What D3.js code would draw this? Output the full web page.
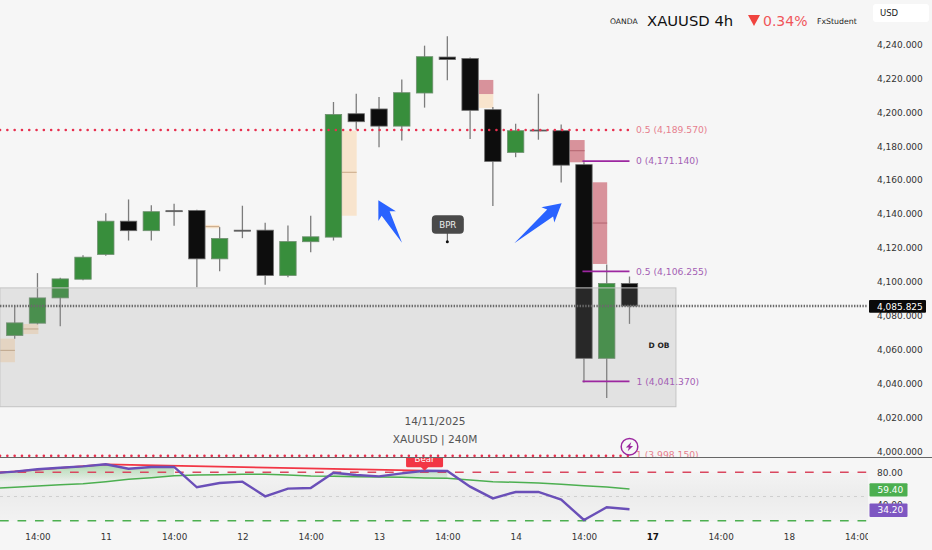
<!DOCTYPE html>
<html>
<head>
<meta charset="utf-8">
<script src="https://cdn.jsdelivr.net/npm/d3@7"></script>
<style>
  html, body { margin: 0; padding: 0; background: #f6f6f6; overflow: hidden; }
  svg { display: block; font-family: "DejaVu Sans", sans-serif; }
  .axis .domain { display: none; }
  .axis text { fill: #333; }
</style>
</head>
<body>
<svg id="chart" width="932" height="550"></svg>
<script>
// candles
const opens  = [4068.4, 4075.7, 4090.6, 4101.6, 4116.2, 4135.8, 4130.2, 4142.0, 4142.1, 4113.6, 4130.5, 4130.5, 4103.8, 4123.7, 4126.4, 4199.1, 4201.9, 4191.8, 4211.3, 4232.5, 4231.6, 4201.5, 4176.3, 4189.5, 4189.1, 4169.1, 4055.0, 4099.1]
const highs  = [4086.1, 4105.2, 4102.5, 4115.8, 4140.5, 4148.6, 4145.2, 4146.1, 4142.5, 4132.3, 4144.9, 4134.9, 4133.3, 4139.0, 4206.0, 4210.9, 4208.9, 4219.2, 4239.2, 4244.7, 4232.2, 4203.0, 4193.2, 4210.9, 4192.7, 4170.5, 4110.3, 4103.2]
const lows   = [4066.5, 4075.0, 4073.9, 4101.0, 4115.5, 4124.4, 4124.4, 4133.1, 4096.9, 4106.3, 4125.8, 4098.3, 4102.8, 4117.5, 4124.4, 4189.7, 4179.4, 4183.4, 4202.7, 4218.8, 4184.2, 4144.7, 4173.5, 4183.8, 4158.6, 4040.7, 4031.7, 4075.3]
const closes = [4075.9, 4090.6, 4101.8, 4114.6, 4135.8, 4130.2, 4141.4, 4141.4, 4113.6, 4125.6, 4130.1, 4103.8, 4123.8, 4126.6, 4198.7, 4194.4, 4191.8, 4211.5, 4232.7, 4231.0, 4201.1, 4171.0, 4189.1, 4189.1, 4168.8, 4055.0, 4099.1, 4085.825]

// rsi pane, first value sits one bar left of the first candle
const rsiBars = d3.range(-1, 28)
const rsiValues = [79, 80.8, 83.7, 85.7, 87.4, 89.9, 84.5, 86.6, 86.6, 61.4, 66.7, 68.4, 50.2, 59.7, 60.5, 79.5, 76.7, 75, 78.7, 82, 81.6, 62.2, 47.7, 55.6, 55.6, 46.1, 20.9, 36.6, 34.2]
const maValues = [60, 61.4, 63, 64.7, 65.9, 68.4, 71.3, 73.3, 75.8, 76.7, 77.1, 77.5, 77.5, 76.7, 75.4, 75, 74.6, 74.2, 73.8, 72.9, 72.5, 70.5, 68.4, 67.6, 66.7, 65.1, 63.4, 61.8, 59.4]
const divergenceBars = [-0.65, 4, 18]
const divergenceValues = [79.5, 89.9, 82]

const priceTicks = [4240, 4220, 4200, 4180, 4160, 4140, 4120, 4100, 4080, 4060, 4040, 4020, 4000]
const timeTickBars = [1, 4, 7, 10, 13, 16, 19, 22, 25, 28, 31, 34, 37]
const timeTickLabels = ["14:00", "11", "14:00", "12", "14:00", "13", "14:00", "14", "14:00", "17", "14:00", "18", "14:00"]

// [bar from, bar to, top price, bottom price, middle price]
const peachBoxes = [
    [-0.65, 0.01, 4066.6, 4052.7, 4059.7],
    [0.38, 1.04, 4075.2, 4069.3, 4072.3],
    [8.37, 8.99, 4133.6, 4131.6, 4132.6],
    [14.36, 15.02, 4189.1, 4139.0, 4164.6],
    [20.39, 21.02, 4210.7, 4202.5, null],
]
const pinkBoxes = [
    [20.39, 21.02, 4219.0, 4210.7, null],
    [24.37, 25.03, 4183.6, 4170.5, 4177.3],
    [25.38, 26.02, 4158.7, 4110.6, 4134.7],
]
const orderBlock = [-0.65, 29.04, 4096.5, 4026.5]

const fibLevels = [4171.14, 4106.255, 4041.37]
const fibNames = ["0", "0.5", "1"]
const redLevels = [4189.57, 3998.15]
const redNames = ["0.5", "1"]
const lastPrice = 4085.825

// [tail bar, tail price, tip bar, tip price]
const arrows = [
    [17.01, 4123.1, 15.97, 4148.1],
    [21.94, 4122.8, 24.02, 4146.3],
]

const svg = d3.select("#chart")
const width = 932, height = 550
const paneRight = 868

const x = d3.scaleLinear().domain([0, 1]).range([14.7, 37.47])
const y = d3.scaleLinear().domain([4240, 4000]).range([44.3, 451.7])
const rsiY = d3.scaleLinear().domain([80, 20]).range([472.3, 520.7])

const fmt = d3.format(",.3f")
const GREEN = "#388e3c", BLACK = "#0d0d0d", WICK = "#7c7c7c"

svg.append("rect").attr("width", width).attr("height", height).attr("fill", "#f6f6f6")

const defs = svg.append("defs")
defs.append("clipPath").attr("id", "mainClip").append("rect")
    .attr("x", 0).attr("y", 0).attr("width", paneRight).attr("height", 457)
defs.append("clipPath").attr("id", "rsiClip").append("rect")
    .attr("x", 0).attr("y", 458).attr("width", paneRight).attr("height", 68)
defs.append("clipPath").attr("id", "timeClip").append("rect")
    .attr("x", 0).attr("y", 525).attr("width", paneRight).attr("height", 25)

const grad = defs.append("linearGradient").attr("id", "rsiFill")
    .attr("gradientUnits", "userSpaceOnUse")
    .attr("x1", 0).attr("x2", 0).attr("y1", 462).attr("y2", 482)
grad.append("stop").attr("offset", 0).attr("stop-color", "#4caf50").attr("stop-opacity", 0.5)
grad.append("stop").attr("offset", 1).attr("stop-color", "#4caf50").attr("stop-opacity", 0.02)

const bandGrad = defs.append("linearGradient").attr("id", "bandFill")
    .attr("gradientUnits", "userSpaceOnUse")
    .attr("x1", 0).attr("x2", 0).attr("y1", rsiY(80)).attr("y2", rsiY(20))
bandGrad.append("stop").attr("offset", 0).attr("stop-color", "#f3f3f3")
bandGrad.append("stop").attr("offset", 0.5).attr("stop-color", "#ececec")
bandGrad.append("stop").attr("offset", 1).attr("stop-color", "#f2f2f2")

const main = svg.append("g").attr("clip-path", "url(#mainClip)")

function drawBoxes (boxes, fill, midColor) {
    const g = main.append("g")
    g.selectAll("rect").data(boxes).enter().append("rect")
        .attr("x", d => x(d[0]))
        .attr("y", d => y(d[2]))
        .attr("width", d => x(d[1]) - x(d[0]))
        .attr("height", d => y(d[3]) - y(d[2]))
        .attr("fill", fill)
    g.selectAll("line").data(boxes.filter(d => d[4] !== null)).enter().append("line")
        .attr("x1", d => x(d[0])).attr("x2", d => x(d[1]))
        .attr("y1", d => y(d[4])).attr("y2", d => y(d[4]))
        .attr("stroke", midColor).attr("stroke-width", 1)
}
drawBoxes(peachBoxes, "#f8e4cd", "#c8a988")
drawBoxes(pinkBoxes, "#d8929b", "#b3636f")

// candles
const candle = main.append("g").selectAll("g").data(d3.range(opens.length)).enter().append("g")
candle.append("line")
    .attr("x1", i => x(i)).attr("x2", i => x(i))
    .attr("y1", i => y(highs[i])).attr("y2", i => y(lows[i]))
    .attr("stroke", WICK).attr("stroke-width", 1.3)
candle.append("rect")
    .attr("x", i => x(i) - 8.2)
    .attr("width", 16.4)
    .attr("y", i => y(Math.max(opens[i], closes[i])))
    .attr("height", i => Math.max(1, Math.abs(y(opens[i]) - y(closes[i]))))
    .attr("fill", i => closes[i] >= opens[i] ? GREEN : BLACK)
    .attr("stroke", i => closes[i] >= opens[i] ? "#6f8f70" : "#6b6b6b")
    .attr("stroke-width", 0.8)

// order block sits over the candles
main.append("rect")
    .attr("x", x(orderBlock[0]))
    .attr("y", y(orderBlock[2]))
    .attr("width", x(orderBlock[1]) - x(orderBlock[0]))
    .attr("height", y(orderBlock[3]) - y(orderBlock[2]))
    .attr("fill", "rgb(148,148,152)").attr("fill-opacity", 0.2)
    .attr("stroke", "#c4c4c4").attr("stroke-width", 1)
main.append("text")
    .attr("x", x(28.3)).attr("y", y(4060.8))
    .attr("text-anchor", "middle").attr("font-size", 7.5).attr("font-weight", "bold").attr("fill", "#222")
    .text("D OB")

// fib levels
main.selectAll(".redLevel").data(redLevels).enter().append("line")
    .attr("class", "redLevel")
    .attr("x1", 0).attr("x2", x(27))
    .attr("y1", d => y(d) + (d < 4000 ? 1 : 0)).attr("y2", d => y(d) + (d < 4000 ? 1 : 0))
    .attr("stroke", "#e8304f").attr("stroke-width", 2.5)
    .attr("stroke-linecap", "round").attr("stroke-dasharray", "0.1,7.2")
main.selectAll(".redLabel").data(redLevels).enter().append("text")
    .attr("class", "redLabel")
    .attr("x", x(27) + 6.5).attr("y", d => y(d)).attr("dy", "0.35em")
    .attr("font-size", 9.2).attr("fill", "#e67f8e")
    .text((d, i) => redNames[i] + " (" + fmt(d) + ")")
main.selectAll(".fibLine").data(fibLevels).enter().append("line")
    .attr("class", "fibLine")
    .attr("x1", x(25) - 1.5).attr("x2", x(27))
    .attr("y1", d => y(d)).attr("y2", d => y(d))
    .attr("stroke", "#9c27a0").attr("stroke-width", 1.8)
main.selectAll(".fibLabel").data(fibLevels).enter().append("text")
    .attr("class", "fibLabel")
    .attr("x", (d, i) => x(27) + (fibNames[i] === "1" ? 7 : 6.5)).attr("y", d => y(d)).attr("dy", "0.35em")
    .attr("font-size", 9.2).attr("fill", "#a45fb4")
    .text((d, i) => fibNames[i] + " (" + fmt(d) + ")")

// last price line
main.append("line")
    .attr("x1", 0).attr("x2", paneRight)
    .attr("y1", y(lastPrice)).attr("y2", y(lastPrice))
    .attr("stroke", "#6a6a6a").attr("stroke-width", 2.4).attr("stroke-dasharray", "1.4,1.4")

// hand drawn arrows
function arrowPath (d) {
    const tail = [x(d[0]), y(d[1])], tip = [x(d[2]), y(d[3])]
    const dx = tail[0] - tip[0], dy = tail[1] - tip[1]
    const len = Math.hypot(dx, dy), ux = dx / len, uy = dy / len
    const at = (along, side) => [tip[0] + ux * along - uy * side, tip[1] + uy * along + ux * side]
    return d3.line()([tip, at(18, 10), at(15, 4.6), tail, at(15, -4.6), at(18, -10)]) + "Z"
}
main.selectAll(".arrow").data(arrows).enter().append("path")
    .attr("class", "arrow").attr("d", arrowPath).attr("fill", "#2962ff")

// BPR label
const bprBar = 19, bprPrice = 4123.7
main.append("line")
    .attr("x1", x(bprBar)).attr("x2", x(bprBar))
    .attr("y1", y(bprPrice)).attr("y2", y(bprPrice) - 9)
    .attr("stroke", "#555").attr("stroke-width", 1)
main.append("circle").attr("cx", x(bprBar)).attr("cy", y(bprPrice)).attr("r", 1.5).attr("fill", "#111")
main.append("rect")
    .attr("x", x(bprBar) - 15.5).attr("y", y(bprPrice) - 26.5)
    .attr("width", 32).attr("height", 18.5).attr("rx", 4)
    .attr("fill", "#4a4a4a")
main.append("text")
    .attr("x", x(bprBar) + 0.5).attr("y", y(bprPrice) - 17).attr("dy", "0.36em")
    .attr("text-anchor", "middle").attr("font-size", 8.6).attr("fill", "#eee")
    .text("BPR")

// alert icon
const alertIcon = svg.append("g").attr("transform", "translate(" + x(27) + ",446.7)")
alertIcon.append("circle").attr("r", 8.3).attr("fill", "#f6f6f6").attr("stroke", "#9c27a0").attr("stroke-width", 1.5)
alertIcon.append("path").attr("d", "M1.8,-4.6 L-3.6,0.8 L-0.6,0.8 L-1.8,4.6 L3.6,-0.8 L0.6,-0.8 Z").attr("fill", "#9c27a0")

// session text
svg.append("text").attr("x", 435).attr("y", 421).attr("dy", "0.35em")
    .attr("text-anchor", "middle").attr("font-size", 10.6).attr("fill", "#555").text("14/11/2025")
svg.append("text").attr("x", 435).attr("y", 439).attr("dy", "0.35em")
    .attr("text-anchor", "middle").attr("font-size", 10.6).attr("fill", "#555").text("XAUUSD | 240M")

// pane separator
svg.append("line").attr("x1", 0).attr("x2", width).attr("y1", 457.5).attr("y2", 457.5)
    .attr("stroke", "#666").attr("stroke-width", 1)

// rsi pane
const rsi = svg.append("g").attr("clip-path", "url(#rsiClip)")
rsi.append("rect")
    .attr("x", 0).attr("width", paneRight)
    .attr("y", rsiY(80)).attr("height", rsiY(20) - rsiY(80))
    .attr("fill", "url(#bandFill)")

const rsiArea = d3.area()
    .defined((d, i) => rsiValues[i] >= maValues[i])
    .x(d => x(d))
    .y0((d, i) => rsiY(maValues[i]))
    .y1((d, i) => rsiY(rsiValues[i]))
rsi.append("path").attr("d", rsiArea(rsiBars)).attr("fill", "url(#rsiFill)")

const dashLevels = [80, 50, 20]
const dashColors = ["#d9475f", "#cfcfcf", "#4caf50"]
rsi.selectAll(".level").data(dashLevels).enter().append("line")
    .attr("class", "level")
    .attr("x1", 0).attr("x2", paneRight)
    .attr("y1", d => rsiY(d)).attr("y2", d => rsiY(d))
    .attr("stroke", (d, i) => dashColors[i])
    .attr("stroke-width", (d, i) => i === 1 ? 1.2 : 1.6)
    .attr("stroke-dasharray", (d, i) => i === 1 ? "3,4" : "8.7,8.8")

const seriesLine = values => d3.line().x(d => x(d)).y((d, i) => rsiY(values[i]))
rsi.append("path").attr("d", seriesLine(divergenceValues)(divergenceBars))
    .attr("fill", "none").attr("stroke", "#f23645").attr("stroke-width", 1.8)
rsi.append("path").attr("d", seriesLine(maValues)(rsiBars))
    .attr("fill", "none").attr("stroke", "#4caf50").attr("stroke-width", 1.5)
rsi.append("path").attr("d", seriesLine(rsiValues)(rsiBars))
    .attr("fill", "none").attr("stroke", "#6a4fb8").attr("stroke-width", 2.4)

// bear label, only its bottom shows below the separator
const bearBar = x(divergenceBars[2]), bearTip = rsiY(divergenceValues[2])
rsi.append("path")
    .attr("d", d3.line()([[bearBar - 4, bearTip - 4], [bearBar + 4, bearTip - 4], [bearBar, bearTip]]) + "Z")
    .attr("fill", "#f23645")
rsi.append("rect")
    .attr("x", bearBar - 18.5).attr("y", bearTip - 16).attr("width", 37).attr("height", 12.5).attr("rx", 1.5)
    .attr("fill", "#f23645")
rsi.append("text")
    .attr("x", bearBar).attr("y", bearTip - 8.5)
    .attr("text-anchor", "middle").attr("font-size", 8.6).attr("fill", "#fff")
    .text("Bear")

// price axis
const priceAxis = svg.append("g").attr("class", "axis")
    .attr("transform", "translate(877,0)")
    .call(d3.axisRight(y).tickValues(priceTicks).tickFormat(fmt).tickSize(0).tickPadding(0))
priceAxis.selectAll("text").attr("font-size", 9).attr("font-family", "DejaVu Sans")

// rsi axis
const rsiAxis = svg.append("g").attr("class", "axis")
    .attr("transform", "translate(877,0)")
    .call(d3.axisRight(rsiY).tickValues([80, 40]).tickFormat(d3.format(".2f")).tickSize(0).tickPadding(0))
rsiAxis.selectAll("text").attr("font-size", 9).attr("font-family", "DejaVu Sans")

// value tags
function valueTag (yPos, left, right, h, fill, label) {
    svg.append("rect").attr("x", left).attr("y", yPos - h / 2).attr("width", right - left).attr("height", h)
        .attr("fill", fill).attr("rx", 1)
    svg.append("text").attr("x", left + 8).attr("y", yPos).attr("dy", "0.36em")
        .attr("font-size", 9).attr("fill", "#fff").text(label)
}
const lastRsi = rsiValues[rsiValues.length - 1], lastMa = maValues[maValues.length - 1]
valueTag(y(lastPrice) + 0.3, 869, 926, 12.8, "#0a0a0a", fmt(lastPrice))
valueTag(rsiY(lastMa) + 1, 869.5, 907.5, 13.4, "#4caf50", d3.format(".2f")(lastMa))
valueTag(rsiY(lastRsi) + 1, 869.5, 907.5, 13.4, "#7e57c2", d3.format(".2f")(lastRsi))

// time axis
const timeAxis = svg.append("g").attr("class", "axis")
    .attr("clip-path", "url(#timeClip)")
    .append("g").attr("transform", "translate(0,533.5)")
    .call(d3.axisBottom(x).tickValues(timeTickBars)
        .tickFormat((d, i) => timeTickLabels[i]).tickSize(0).tickPadding(0))
timeAxis.selectAll("text")
    .attr("font-size", 8.8).attr("font-family", "DejaVu Sans")
    .attr("font-weight", d => d === 28 ? "bold" : "normal")
    .style("fill", d => d === 28 ? "#111" : "#333")

// header
const header = svg.append("g")
header.append("text").attr("x", 610).attr("y", 21).attr("dy", "0.35em").attr("font-size", 7.6).attr("fill", "#222").text("OANDA")
header.append("text").attr("x", 647).attr("y", 21).attr("dy", "0.35em").attr("font-size", 14.8).attr("fill", "#111").text("XAUUSD 4h")
header.append("path").attr("d", "M748,15 L760,15 L754,26 Z").attr("fill", "#f0443f")
header.append("text").attr("x", 763).attr("y", 21).attr("dy", "0.35em").attr("font-size", 14).attr("fill", "#f0555a").text("0.34%")
header.append("text").attr("x", 817).attr("y", 21).attr("dy", "0.35em").attr("font-size", 7.8).attr("fill", "#222").text("FxStudent")
header.append("rect").attr("x", 873).attr("y", 4).attr("width", 56).attr("height", 18).attr("rx", 3).attr("fill", "#fff")
header.append("text").attr("x", 880).attr("y", 13).attr("dy", "0.35em").attr("font-size", 8.5).attr("fill", "#222").text("USD")
</script>
</body>
</html>
